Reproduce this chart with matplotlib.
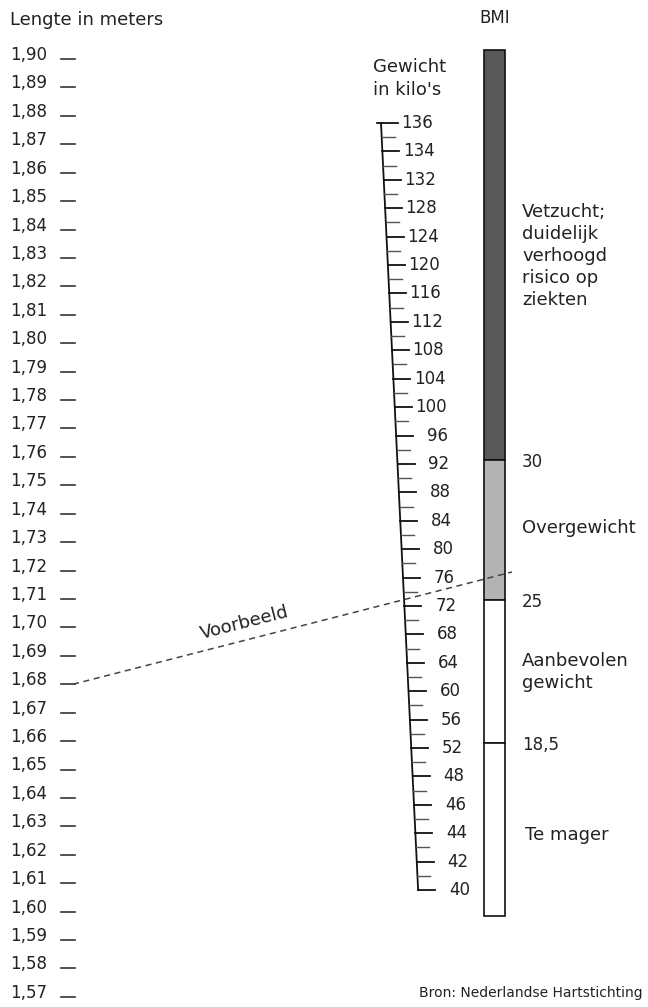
import numpy as np
import matplotlib
matplotlib.use("Agg")
import matplotlib.pyplot as plt
from matplotlib.patches import Rectangle

# data
height_labels = ["1,90", "1,89", "1,88", "1,87", "1,86", "1,85", "1,84", "1,83", "1,82",
                 "1,81", "1,80", "1,79", "1,78", "1,77", "1,76", "1,75", "1,74", "1,73",
                 "1,72", "1,71", "1,70", "1,69", "1,68", "1,67", "1,66", "1,65", "1,64",
                 "1,63", "1,62", "1,61", "1,60", "1,59", "1,58", "1,57"]
heights = [1.90, 1.89, 1.88, 1.87, 1.86, 1.85, 1.84, 1.83, 1.82, 1.81, 1.80, 1.79, 1.78,
           1.77, 1.76, 1.75, 1.74, 1.73, 1.72, 1.71, 1.70, 1.69, 1.68, 1.67, 1.66, 1.65,
           1.64, 1.63, 1.62, 1.61, 1.60, 1.59, 1.58, 1.57]
weight_labels = ["136", "134", "132", "128", "124", "120", "116", "112", "108", "104", "100",
                 "96", "92", "88", "84", "80", "76", "72", "68", "64", "60", "56", "52",
                 "48", "46", "44", "42", "40"]
bmi_bounds = [30, 25, 18.5]
bmi_bound_labels = ["30", "25", "18,5"]
bmi_classes = ["Vetzucht;\nduidelijk\nverhoogd\nrisico op\nziekten", "Overgewicht",
               "Aanbevolen\ngewicht", "Te mager"]
example_height = 1.68
example_bmi = 26

# layout helpers (pixel space)
def height_y(h):
    return 55 + (1.90 - h) * 2842.0

def weight_y(i):
    return 123 + i * 28.41

def weight_x(y):
    return 381 + (y - 123) * 0.0484

def bmi_y(b):
    return np.interp(-b, [-45, -30, -25, -18.5, -12], [50, 460, 600, 743, 916])

fig = plt.figure(figsize=(6.48, 10.07), dpi=100)
ax = fig.add_axes([0, 0, 1, 1])
ax.set_xlim(0, 648)
ax.set_ylim(1007, 0)
ax.axis("off")
plt.rcParams['font.family'] = ['DejaVu Sans']
fs = 12     # numbers
fw = 13     # words
col = "#222222"

# height scale
ax.text(10, 20, "Lengte in meters", fontsize=fw, va="center", ha="left", color=col)
for lab, h in zip(height_labels, heights):
    y = height_y(h)
    ax.text(10, y, lab, fontsize=fs, va="center", ha="left", color=col)
    ax.plot([61, 75], [y + 4, y + 4], color="#333333", lw=1.2)

# weight scale
ax.text(373, 67, "Gewicht", fontsize=fw, va="center", ha="left", color=col)
ax.text(373, 90, "in kilo's", fontsize=fw, va="center", ha="left", color=col)
n = len(weight_labels)
y0, y1 = weight_y(0), weight_y(n - 1)
ax.plot([weight_x(y0), weight_x(y1)], [y0, y1], color="#111111", lw=1.3)
for i, lab in enumerate(weight_labels):
    y = weight_y(i)
    x = weight_x(y)
    xs = x - 4 if i == 0 else x
    ax.plot([xs, x + 17], [y, y], color="#111111", lw=1.3)
    ax.text(x + 52, y, lab, fontsize=fs, va="center", ha="right", color=col)
    if i < n - 1:
        ym = weight_y(i + 0.5)
        xm = weight_x(ym)
        ax.plot([xm, xm + 13], [ym, ym], color="#555555", lw=1.0)

# BMI bar
bx, bw = 484, 21
ax.text(bx + bw / 2, 18, "BMI", fontsize=fs, va="center", ha="center", color=col)
top, bot = bmi_y(45), bmi_y(12)
edges = [top, bmi_y(30), bmi_y(25), bmi_y(18.5), bot]
fills = ["#585858", "#b3b3b3", "white", "white"]
for k in range(4):
    ax.add_patch(Rectangle((bx, edges[k]), bw, edges[k + 1] - edges[k],
                           facecolor=fills[k], edgecolor="#111111", lw=1.2))
for b, lab in zip(bmi_bounds, bmi_bound_labels):
    ax.text(522, bmi_y(b) + 2, lab, fontsize=fs, va="center", ha="left", color=col)
ax.text(522, 256, bmi_classes[0], fontsize=fw, va="center", ha="left",
        color=col, linespacing=1.3)
ax.text(522, 528, bmi_classes[1], fontsize=fw, va="center", ha="left", color=col)
ax.text(522, 672, bmi_classes[2], fontsize=fw, va="center", ha="left",
        color=col, linespacing=1.35)
ax.text(525, 835, bmi_classes[3], fontsize=fw, va="center", ha="left", color=col)

# example line
xa, ya = 73, height_y(example_height) + 4
xb, yb = 512, bmi_y(example_bmi)
ax.plot([xa, xb], [ya, yb], color="#444444", lw=1.1, linestyle=(0, (4, 3)))
ang = np.degrees(np.arctan2(ya - yb, xb - xa))
ax.text(245, 623, "Voorbeeld", fontsize=fw, rotation=ang, ha="center",
        va="center", rotation_mode="anchor", color=col)

ax.text(643, 993, "Bron: Nederlandse Hartstichting", fontsize=10, ha="right",
        va="center", color=col)

fig.savefig("out.png", dpi=100)
